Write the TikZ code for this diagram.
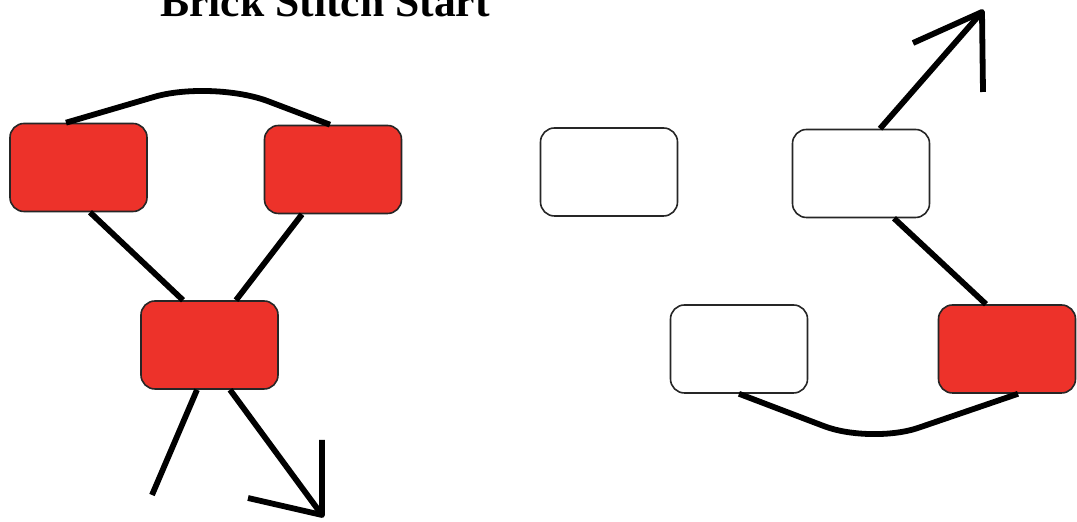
\documentclass[tikz,border=0pt]{standalone}
\usepackage{fontspec}
\setmainfont{Liberation Serif}
\usetikzlibrary{calc}
\definecolor{brickred}{RGB}{237,50,42}

\begin{document}
\begin{tikzpicture}[x=0.5pt,y=-0.5pt,
    bead/.style={draw=black!85,line width=0.8pt,rounded corners=7pt,minimum width=68.5pt,minimum height=44pt,inner sep=0pt},
    redbead/.style={bead,fill=brickred},
    whitebead/.style={bead,fill=white},
    thread/.style={line width=2.9pt,line join=round}]
    \useasboundingbox (0,0) rectangle (1077,522);
    \node[anchor=base,font=\fontsize{21.8}{26}\selectfont\bfseries] (title) at (325,17) {Brick Stitch Start};

    \node[redbead] (a) at (78.5,167.5) {}; \node[redbead] (b) at (333,169.5) {}; \node[redbead] (c) at (209.5,345) {};
    \coordinate (peak) at (212,80);
    \draw[thread,rounded corners=30pt] ($(a.north)+(-12.5,0)$) -- (peak) -- ($(b.north)+(-3,0)$);
    \draw[thread] ($(a.south)+(11.5,0)$) -- ($(c.north)+(-26.5,0)$); \draw[thread] ($(b.south)+(-31,0)$) -- ($(c.north)+(26.5,0)$);
    \coordinate (loose) at (152,495);
    \draw[thread] ($(c.south)+(-12.5,0)$) -- (loose);
    \coordinate (tipc) at (322,515); \coordinate (barbc1) at (322,440); \coordinate (barbc2) at (248,498);
    \draw[thread] ($(c.south)+(20.5,0)$) -- (tipc); \draw[thread] (barbc1) -- (tipc) -- (barbc2);

    \node[whitebead] (d) at (609,172) {}; \node[whitebead] (e) at (861,173.5) {};
    \node[whitebead] (f) at (739,349) {}; \node[redbead] (g) at (1007,349) {};
    \coordinate (tipe) at (982,12); \coordinate (barbe1) at (913,43); \coordinate (barbe2) at (983,92);
    \draw[thread] ($(e.north)+(19,0)$) -- (tipe); \draw[thread] (barbe1) -- (tipe) -- (barbe2);
    \draw[thread] ($(e.south)+(33,0)$) -- ($(g.north)+(-21,0)$);
    \coordinate (dip) at (871,444);
    \draw[thread,rounded corners=25pt] (f.south) -- (dip) -- ($(g.south)+(11,0)$);
\end{tikzpicture}
\end{document}
